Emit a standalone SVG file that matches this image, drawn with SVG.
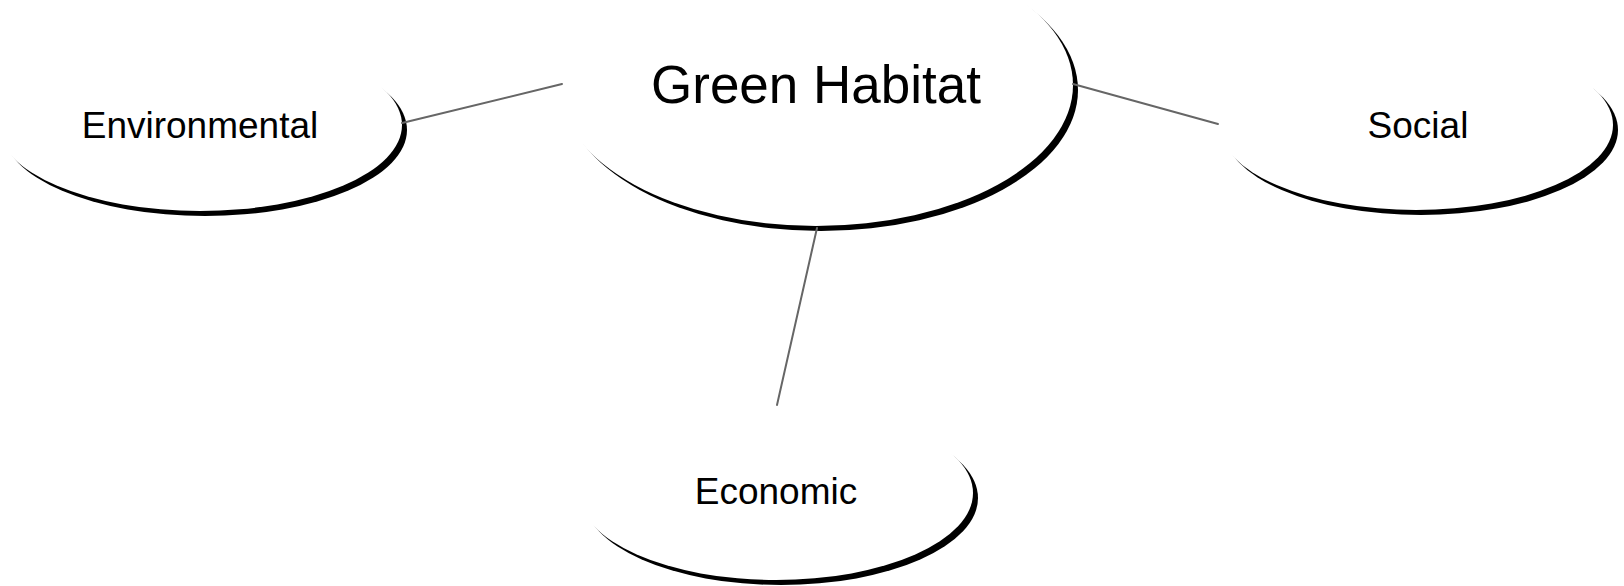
<svg xmlns="http://www.w3.org/2000/svg" width="1624" height="586" viewBox="0 0 1624 586">
  <style>
    .shadow { fill: #000000; }
    .body { fill: #ffffff; stroke: none; }
    .label { font-family: "Liberation Sans", Arial, sans-serif; fill: #000000; text-anchor: middle; }
    .small { font-size: 37px; }
    .big { font-size: 53px; }
    .conn { stroke: #666666; stroke-width: 2; fill: none; stroke-linecap: round; }
  </style>
  <rect x="0" y="0" width="1624" height="586" fill="#ffffff"/>
  <g id="node-green-habitat">
    <ellipse class="shadow" cx="821" cy="90" rx="257" ry="141"/>
    <ellipse class="body" cx="816" cy="85" rx="257" ry="141"/>
    <text class="label big" x="816" y="103">Green Habitat</text>
  </g>
  <g id="node-environmental">
    <ellipse class="shadow" cx="205" cy="130" rx="202" ry="86"/>
    <ellipse class="body" cx="200" cy="125" rx="202" ry="86"/>
    <text class="label small" x="200" y="138">Environmental</text>
  </g>
  <g id="node-social">
    <ellipse class="shadow" cx="1421" cy="130" rx="197" ry="85"/>
    <ellipse class="body" cx="1416" cy="125" rx="197" ry="85"/>
    <text class="label small" x="1418" y="138">Social</text>
  </g>
  <g id="node-economic">
    <ellipse class="shadow" cx="781" cy="498" rx="197" ry="87"/>
    <ellipse class="body" cx="776" cy="493" rx="197" ry="87"/>
    <text class="label small" x="776" y="504">Economic</text>
  </g>
  <g id="connectors">
    <line class="conn" x1="402" y1="123" x2="562" y2="84"/>
    <line class="conn" x1="1073" y1="84" x2="1218" y2="124"/>
    <line class="conn" x1="817" y1="228" x2="777" y2="405"/>
  </g>
</svg>
